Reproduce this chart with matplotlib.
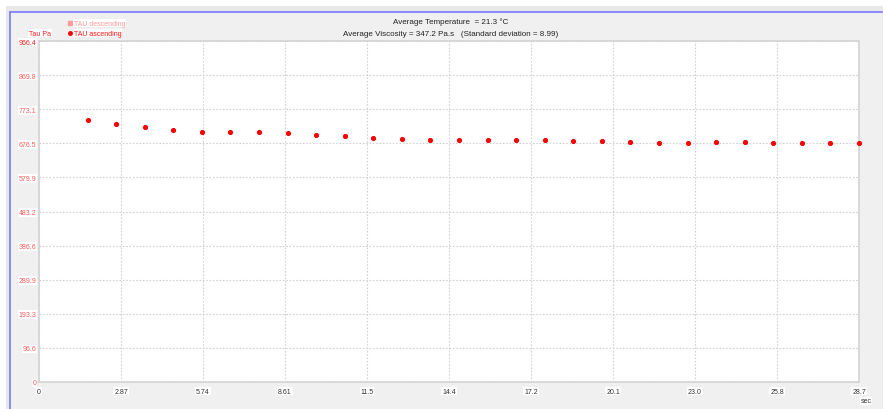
import numpy as np
import matplotlib
matplotlib.use("Agg")
import matplotlib.pyplot as plt
from matplotlib.lines import Line2D
from matplotlib.patches import Rectangle

plt.rcParams['font.family'] = ['Liberation Sans', 'DejaVu Sans']

# measured points (TAU ascending), time in sec, tau in Pa
time_sec = [1.7, 2.7, 3.7, 4.7, 5.7, 6.7, 7.7, 8.7, 9.7, 10.7,
            11.7, 12.7, 13.7, 14.7, 15.7, 16.7, 17.7, 18.7, 19.7, 20.7,
            21.7, 22.7, 23.7, 24.7, 25.7, 26.7, 27.7, 28.7]
tau_asc = [742, 732, 722, 713, 709, 709, 709, 706, 701, 696,
           692, 689, 687, 685, 687, 687, 685, 683, 684, 680,
           678, 678, 680, 680, 678, 677, 677, 677]
tau_desc = []

x_max = 28.7
y_max = 966.4
x_tick_labels = ['0', '2.87', '5.74', '8.61', '11.5', '14.4', '17.2', '20.1', '23.0', '25.8', '28.7']
y_tick_labels = ['0', '96.6', '193.3', '289.9', '386.6', '483.2', '579.9', '676.5', '773.1', '869.8', '966.4']

title_1 = 'Average Temperature  = 21.3 \u00b0C'
title_2 = 'Average Viscosity = 347.2 Pa.s   (Standard deviation = 8.99)'

W, H = 883, 410
fig = plt.figure(figsize=(W / 100, H / 100), dpi=100)
fig.patch.set_facecolor('#f0f0f0')

# window frame
fig.patches.append(Rectangle((0, 0), 1, 1, transform=fig.transFigure, facecolor='white', edgecolor='none', zorder=-3))
fig.patches.append(Rectangle((6 / W, 0), 1, (H - 7) / H, transform=fig.transFigure, facecolor='#e8e8e8', edgecolor='none', zorder=-2))
fig.patches.append(Rectangle((10 / W, 0), (W - 11) / W, (H - 13) / H, transform=fig.transFigure, facecolor='#f0f0f0', edgecolor='none', zorder=-1))
fig.add_artist(Line2D([10 / W, 10 / W], [0, (H - 13) / H], transform=fig.transFigure, color='#7878ff', lw=1.2))
fig.add_artist(Line2D([10 / W, (W - 1) / W], [(H - 13) / H, (H - 13) / H], transform=fig.transFigure, color='#7878ff', lw=1.2))

ax = fig.add_axes([39 / W, 27 / H, 820 / W, 341 / H])
ax.set_facecolor('white')

ax.plot(time_sec, tau_asc, linestyle='none', marker='o', ms=2.7, color='#ff0000', mec='#ff0000', clip_on=False, zorder=5)
if tau_desc:
    ax.plot(time_sec[:len(tau_desc)], tau_desc, linestyle='none', marker='s', ms=2.5, color='#ff9a9a')

ax.set_xlim(0, x_max)
ax.set_ylim(0, y_max)
ax.set_xticks(np.linspace(0, x_max, 11))
ax.set_xticklabels(x_tick_labels)
ax.set_yticks(np.linspace(0, y_max, 11))
ax.set_yticklabels(y_tick_labels)

ax.grid(True, color='#d2d2d2', linestyle=(0, (1.5, 1.5)), linewidth=0.8)
for s in ax.spines.values():
    s.set_color('#d4d4d4')
    s.set_linewidth(1.2)
ax.tick_params(length=0, pad=2)
ax.tick_params(axis='x', labelsize=5, colors='#333333', pad=4)
ax.tick_params(axis='y', labelsize=5, labelcolor='#ff5a5a')
for lbl in ax.get_xticklabels() + ax.get_yticklabels():
    lbl.set_bbox(dict(facecolor='white', edgecolor='none', pad=0.6))
ax.get_yticklabels()[-1].set_color('#ff2020')

fig.text(451 / W, 1 - 22 / H, title_1, ha='center', va='center', fontsize=5.8, color='#222222')
fig.text(451 / W, 1 - 35 / H, title_2, ha='center', va='center', fontsize=5.8, color='#222222')

fig.text(40 / W, 1 - 34 / H, 'Tau Pa', ha='center', va='center', fontsize=5, color='#ff2020',
         bbox=dict(facecolor='white', edgecolor='none', pad=0.6))
fig.text(866 / W, 1 - 402 / H, 'sec', ha='center', va='center', fontsize=5, color='#333333',
         bbox=dict(facecolor='white', edgecolor='none', pad=0.6))

# legend
fig.add_artist(Line2D([70 / W], [1 - 24 / H], transform=fig.transFigure, marker='s', ms=2.5,
                      color='#ff9a9a', linestyle='none'))
fig.add_artist(Line2D([70 / W], [1 - 34 / H], transform=fig.transFigure, marker='o', ms=2.5,
                      color='#ff0000', linestyle='none'))
fig.text(74 / W, 1 - 24 / H, 'TAU descending', ha='left', va='center', fontsize=5, color='#ff9a9a',
         bbox=dict(facecolor='white', edgecolor='none', pad=0.5))
fig.text(74 / W, 1 - 34 / H, 'TAU ascending', ha='left', va='center', fontsize=5, color='#ff1010',
         bbox=dict(facecolor='white', edgecolor='none', pad=0.5))

fig.savefig('out.png', dpi=100, facecolor=fig.get_facecolor())
